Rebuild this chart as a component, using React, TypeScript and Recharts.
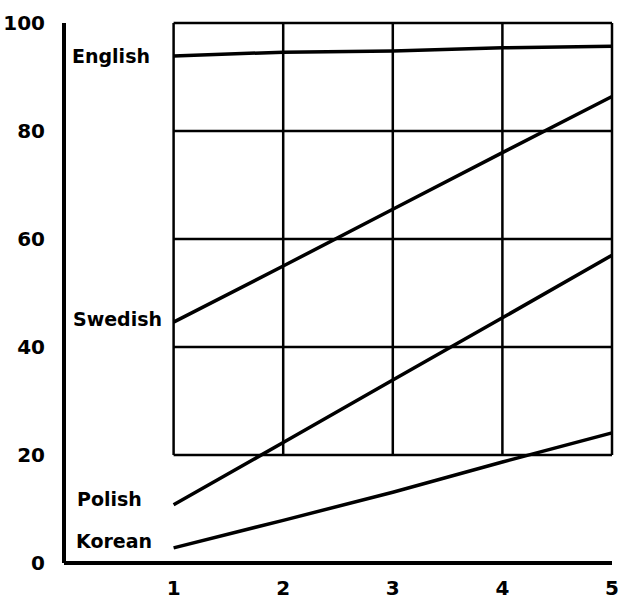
import React from 'react';
import { LineChart, Line, XAxis, YAxis, ReferenceLine, ReferenceDot } from 'recharts';

const xValues = [1, 2, 3, 4, 5];
const english = [93.9, 94.6, 94.8, 95.4, 95.7];
const swedish = [44.6, 55.0, 65.5, 76.0, 86.4];
const polish = [10.8, 22.3, 33.9, 45.4, 57.0];
const korean = [2.8, 7.9, 13.1, 18.7, 24.1];

const yTicks = [0, 20, 40, 60, 80, 100];
const xTicks = [1, 2, 3, 4, 5];
const gridRows = [20, 40, 60, 80, 100];
const gridCols = [1, 2, 3, 4, 5];

const seriesNames = ['English', 'Swedish', 'Polish', 'Korean'];
const seriesKeys = ['english', 'swedish', 'polish', 'korean'];
const seriesValues = [english, swedish, polish, korean];
const labelShift = [0, -3, -6, -7];
const labelIndent = [8, 9, 13, 12];

const data = xValues.map((x, i) => ({
  x,
  english: english[i],
  swedish: swedish[i],
  polish: polish[i],
  korean: korean[i],
}));

const FONT = '"DejaVu Sans", sans-serif';

const makeLabel = (name: string, dy: number, dx: number) => (props: any) => {
  const vb = props.viewBox || {};
  const cx = (vb.x || 0) + (vb.width || 0) / 2;
  const cy = (vb.y || 0) + (vb.height || 0) / 2;
  return (
    <text
      x={cx + dx}
      y={cy + dy}
      textAnchor="start"
      dominantBaseline="central"
      fontFamily={FONT}
      fontWeight="bold"
      fontSize={19}
      fill="#000"
    >
      {name}
    </text>
  );
};

export default function App() {
  return (
    <div style={{ position: 'absolute', left: 0, top: 0, background: '#fff' }}>
      <LineChart
        width={619}
        height={607}
        data={data}
        margin={{ top: 23, right: 7, bottom: 0, left: 0 }}
      >
        <XAxis
          dataKey="x"
          type="number"
          domain={[0, 5]}
          ticks={xTicks}
          tickLine={false}
          tickSize={0}
          tickMargin={18}
          height={44}
          axisLine={{ stroke: '#000', strokeWidth: 4 }}
          tick={{ fill: '#000', fontSize: 20, fontWeight: 'bold', fontFamily: FONT }}
        />
        <YAxis
          type="number"
          domain={[0, 100]}
          ticks={yTicks}
          tickLine={false}
          tickSize={0}
          tickMargin={19}
          width={64}
          axisLine={{ stroke: '#000', strokeWidth: 4 }}
          tick={{ fill: '#000', fontSize: 20, fontWeight: 'bold', fontFamily: FONT }}
        />
        {gridRows.map((v) => (
          <ReferenceLine
            key={'r' + v}
            segment={[{ x: gridCols[0], y: v }, { x: gridCols[gridCols.length - 1], y: v }]}
            stroke="#000"
            strokeWidth={2.5}
          />
        ))}
        {gridCols.map((v) => (
          <ReferenceLine
            key={'c' + v}
            segment={[{ x: v, y: gridRows[0] }, { x: v, y: gridRows[gridRows.length - 1] }]}
            stroke="#000"
            strokeWidth={2.5}
          />
        ))}
        {seriesKeys.map((k) => (
          <Line
            key={k}
            type="linear"
            dataKey={k}
            stroke="#000"
            strokeWidth={3.5}
            dot={false}
            activeDot={false}
            isAnimationActive={false}
          />
        ))}
        {seriesNames.map((name, i) => (
          <ReferenceDot
            key={name}
            x={0}
            y={seriesValues[i][0]}
            r={0}
            fill="none"
            stroke="none"
            label={makeLabel(name, labelShift[i], labelIndent[i])}
          />
        ))}
      </LineChart>
    </div>
  );
}
